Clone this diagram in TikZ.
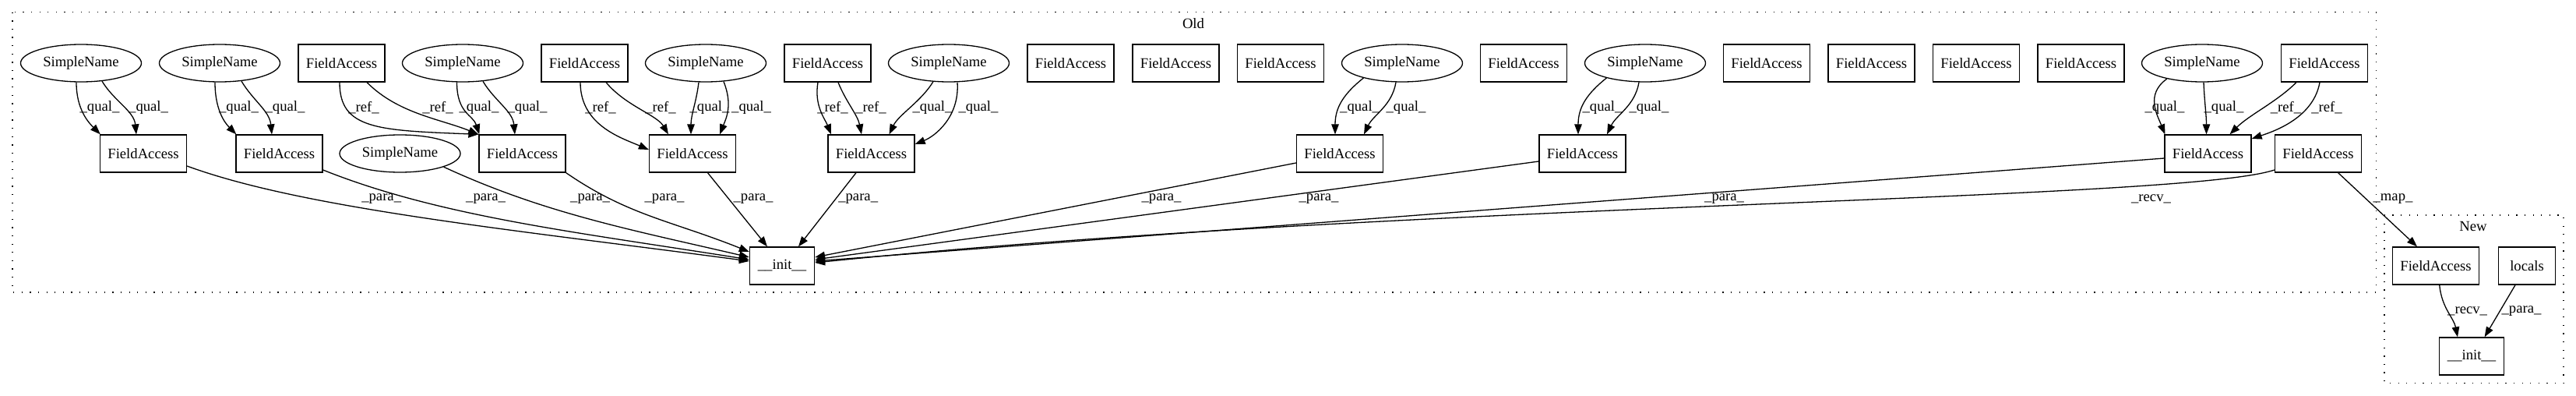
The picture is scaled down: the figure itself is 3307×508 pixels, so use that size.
\documentclass[tikz,border=0pt]{standalone}
\usepackage{fontspec}
\setmainfont{Liberation Serif}
\usetikzlibrary{shapes.geometric,arrows.meta}
\begin{document}
\begin{tikzpicture}[x=1pt,y=-1pt,
  every node/.style={font=\fontsize{18.67}{22}\selectfont},
  fa/.style={draw,rectangle,line width=1.3pt,minimum width=111pt,minimum height=48pt,inner sep=0pt},
  sn/.style={draw,ellipse,line width=1.3pt,minimum width=155pt,minimum height=48pt,inner sep=0pt},
  ini/.style={draw,rectangle,line width=1.3pt,minimum width=83pt,minimum height=48pt,inner sep=0pt},
  loc/.style={draw,rectangle,line width=1.3pt,minimum width=73pt,minimum height=48pt,inner sep=0pt},
  edge/.style={line width=1.3pt,-{Triangle[length=13pt,width=9.5pt]}},
  lbl/.style={inner sep=0pt},
  cluster/.style={line width=1.3pt,dash pattern=on 1.3pt off 9.3pt}
]
\useasboundingbox (0,0) rectangle (3307,508);
% clusters
\draw[cluster] (16,15.7) rectangle (3050.7,375);
\draw[cluster] (3061,276) rectangle (3291,491.7);
\node[lbl] (oldlbl) at (1532,30) {Old};
\node[lbl] (newlbl) at (3175,290) {New};
% row 1
\node[sn] (sn1) at (104,81) {SimpleName};
\node[sn] (sn2) at (282,81) {SimpleName};
\node[fa] (fa1) at (438.5,81) {FieldAccess};
\node[sn] (sn3) at (594,81) {SimpleName};
\node[fa] (fa2) at (750.5,81) {FieldAccess};
\node[sn] (sn4) at (906,81) {SimpleName};
\node[fa] (fa3) at (1062.5,81) {FieldAccess};
\node[sn] (sn5) at (1218,81) {SimpleName};
\node[fa] (fi1) at (1374.5,81) {FieldAccess};
\node[fa] (fi2) at (1509.5,81) {FieldAccess};
\node[fa] (fi3) at (1644,81) {FieldAccess};
\node[sn] (sn6) at (1800,81) {SimpleName};
\node[fa] (fi4) at (1956,81) {FieldAccess};
\node[sn] (sn7) at (2112,81) {SimpleName};
\node[fa] (fi5) at (2268,81) {FieldAccess};
\node[fa] (fi6) at (2402.5,81) {FieldAccess};
\node[fa] (fi7) at (2537,81) {FieldAccess};
\node[fa] (fi8) at (2671.5,81) {FieldAccess};
\node[sn] (sn8) at (2827,81) {SimpleName};
\node[fa] (fa4) at (2984,81) {FieldAccess};
% row 2
\node[fa] (faA) at (184,197) {FieldAccess};
\node[fa] (faB) at (358.5,197) {FieldAccess};
\node[sn] (snX) at (513.5,197) {SimpleName};
\node[fa] (faC) at (670.5,197) {FieldAccess};
\node[fa] (faD) at (889,197) {FieldAccess};
\node[fa] (faE) at (1118.5,197) {FieldAccess};
\node[fa] (faF) at (1720,197) {FieldAccess};
\node[fa] (faG) at (2031.5,197) {FieldAccess};
\node[fa] (faH) at (2834.5,197) {FieldAccess};
\node[fa] (faI) at (2976,197) {FieldAccess};
\node[ini] (init) at (1004,341) {\_\_init\_\_};
% new
\node[fa] (nfa) at (3127,341) {FieldAccess};
\node[loc] (locals) at (3244,341) {locals};
\node[ini] (ninit) at (3173,457) {\_\_init\_\_};
% qual / ref edges
\draw[edge] ([xshift=-6pt]sn1.south) .. controls +(0,35) and +(-15,-15) .. ([xshift=1pt]faA.north west);
\draw[edge] ([xshift=27pt,yshift=1.5pt]sn1.south) .. controls +(15,25) and +(-3,-30) .. ([xshift=-9pt]faA.north);
\draw[edge] ([xshift=-6pt]sn2.south) .. controls +(0,35) and +(-15,-15) .. ([xshift=1pt]faB.north west);
\draw[edge] ([xshift=28pt,yshift=1.5pt]sn2.south) .. controls +(15,25) and +(-3,-30) .. ([xshift=-9.5pt]faB.north);
\draw[edge] ([xshift=-2.5pt]fa1.south) .. controls +(0,60) and +(-130,-5) .. (faC.north west);
\draw[edge] ([xshift=32.5pt]fa1.south) .. controls +(40,40) and +(-50,-20) .. (faC.north west);
\draw[edge] ([xshift=-7.5pt]sn3.south) .. controls +(0,40) and +(-8,-25) .. ([xshift=1pt]faC.north west);
\draw[edge] ([xshift=26pt,yshift=1.3pt]sn3.south) .. controls +(15,25) and +(-3,-30) .. ([xshift=-9.5pt]faC.north);
\draw[edge] ([xshift=-5.5pt]fa2.south) .. controls +(0,55) and +(-35,-15) .. ([yshift=5pt]faD.west);
\draw[edge] ([xshift=27.5pt]fa2.south) .. controls +(25,30) and +(-15,-25) .. ([xshift=-31pt]faD.north);
\draw[edge] ([xshift=-9pt]sn4.south) .. controls +(-3,25) and +(0,-25) .. ([xshift=-2pt]faD.north);
\draw[edge] ([xshift=23pt,yshift=1pt]sn4.south) .. controls +(12,30) and +(8,-20) .. ([xshift=35pt]faD.north);
\draw[edge] ([xshift=-12.5pt]fa3.south) .. controls +(-5,30) and +(-8,-20) .. ([xshift=-51.5pt]faE.north);
\draw[edge] ([xshift=13.5pt]fa3.south) .. controls +(10,25) and +(-5,-25) .. ([xshift=-12.5pt]faE.north);
\draw[edge] ([xshift=-20pt,yshift=1pt]sn5.south) .. controls +(-15,25) and +(12,-25) .. ([xshift=23pt]faE.north);
\draw[edge] ([xshift=11pt]sn5.south) .. controls +(3,45) and +(25,-10) .. ([yshift=12pt]faE.east);
\draw[edge] (sn6.-159) .. controls +(-25,20) and +(0,-35) .. ([xshift=-6pt]faF.north);
\draw[edge] ([xshift=-8pt]sn6.south) .. controls +(-5,30) and +(12,-25) .. ([xshift=31pt]faF.north);
\draw[edge] (sn7.-159) .. controls +(-25,20) and +(0,-35) .. ([xshift=-5.5pt]faG.north);
\draw[edge] ([xshift=-8pt]sn7.south) .. controls +(-5,30) and +(12,-25) .. ([xshift=31.5pt]faG.north);
\draw[edge] (sn8.-156) .. controls +(-28,20) and +(-10,-25) .. ([xshift=1pt]faH.north west);
\draw[edge] ([xshift=2pt]sn8.south) .. controls +(1,25) and +(0,-25) .. ([xshift=-2pt]faH.north);
\draw[edge] ([xshift=-36pt]fa4.south) .. controls +(-25,25) and +(25,-25) .. ([xshift=28pt]faH.north);
\draw[edge] ([xshift=-6pt]fa4.south) .. controls +(-8,45) and +(30,-10) .. ([yshift=19pt]faH.east);
% para edges
\draw[edge] ([yshift=-16pt]faA.east) .. controls +(150,55) and +(-300,-40) .. ([yshift=6pt]init.west);
\draw[edge] ([yshift=-21pt]faB.east) .. controls +(150,60) and +(-220,-35) .. ([yshift=8pt]init.west);
\draw[edge] (snX.-17) .. controls +(130,60) and +(-150,-35) .. ([yshift=11pt]init.west);
\draw[edge] (faC.south east) .. controls +(80,55) and +(-100,-40) .. ([yshift=18pt]init.west);
\draw[edge] ([xshift=19.5pt]faD.south) -- ([xshift=-19pt]init.north);
\draw[edge] ([xshift=-19.5pt]faE.south) -- ([xshift=21pt]init.north);
\draw[edge] ([yshift=-12pt]faF.west) -- ([yshift=11pt]init.east);
\draw[edge] ([yshift=-10pt]faG.west) -- ([yshift=8pt]init.east);
\draw[edge] ([yshift=-6pt]faH.west) -- ([yshift=6pt]init.east);
\draw[edge] ([yshift=-21pt]faI.west) .. controls +(-120,40) and +(754,-77) .. ([yshift=4pt]init.east);
\draw[edge] ([xshift=25.6pt]faI.south) -- ([xshift=-24pt]nfa.north);
\draw[edge] ([xshift=4.7pt]nfa.south) .. controls +(3,30) and +(-5,-25) .. ([xshift=-18pt]ninit.north);
\draw[edge] ([xshift=-15pt]locals.south) -- ([xshift=16.6pt]ninit.north);
% labels
\node[lbl] (l1) at (128,138) {\_qual\_};
\node[lbl] (l2) at (190.6,138) {\_qual\_};
\node[lbl] (l3) at (306.5,138) {\_qual\_};
\node[lbl] (l4) at (366,138) {\_qual\_};
\node[lbl] (l5) at (467,138) {\_ref\_};
\node[lbl] (l6) at (562,138) {\_ref\_};
\node[lbl] (l7) at (615,138) {\_qual\_};
\node[lbl] (l8) at (677,138) {\_qual\_};
\node[lbl] (l9) at (771,138) {\_ref\_};
\node[lbl] (l10) at (848,138) {\_ref\_};
\node[lbl] (l11) at (911,138) {\_qual\_};
\node[lbl] (l12) at (964.6,138) {\_qual\_};
\node[lbl] (l13) at (1069,138) {\_ref\_};
\node[lbl] (l14) at (1118,138) {\_ref\_};
\node[lbl] (l15) at (1197,138) {\_qual\_};
\node[lbl] (l16) at (1256,138) {\_qual\_};
\node[lbl] (l17) at (1745.6,138) {\_qual\_};
\node[lbl] (l18) at (1805,138) {\_qual\_};
\node[lbl] (l19) at (2057,138) {\_qual\_};
\node[lbl] (l20) at (2117,138) {\_qual\_};
\node[lbl] (l21) at (2779,138) {\_qual\_};
\node[lbl] (l22) at (2855,138) {\_qual\_};
\node[lbl] (l23) at (2934.5,138) {\_ref\_};
\node[lbl] (l24) at (2987,138) {\_ref\_};
\node[lbl] (l25) at (489.7,255) {\_para\_};
\node[lbl] (l26) at (623.6,255) {\_para\_};
\node[lbl] (l27) at (757.6,255) {\_para\_};
\node[lbl] (l28) at (853,255) {\_para\_};
\node[lbl] (l29) at (967,255) {\_para\_};
\node[lbl] (l30) at (1101.7,255) {\_para\_};
\node[lbl] (l31) at (1491,255) {\_para\_};
\node[lbl] (l32) at (1693,255) {\_para\_};
\node[lbl] (l33) at (2213.6,255) {\_para\_};
\node[lbl] (l34) at (2761.5,255) {\_recv\_};
\node[lbl] (l35) at (3072,255) {\_map\_};
\node[lbl] (l36) at (3167.6,399) {\_recv\_};
\node[lbl] (l37) at (3237,399) {\_para\_};
\end{tikzpicture}
\end{document}
